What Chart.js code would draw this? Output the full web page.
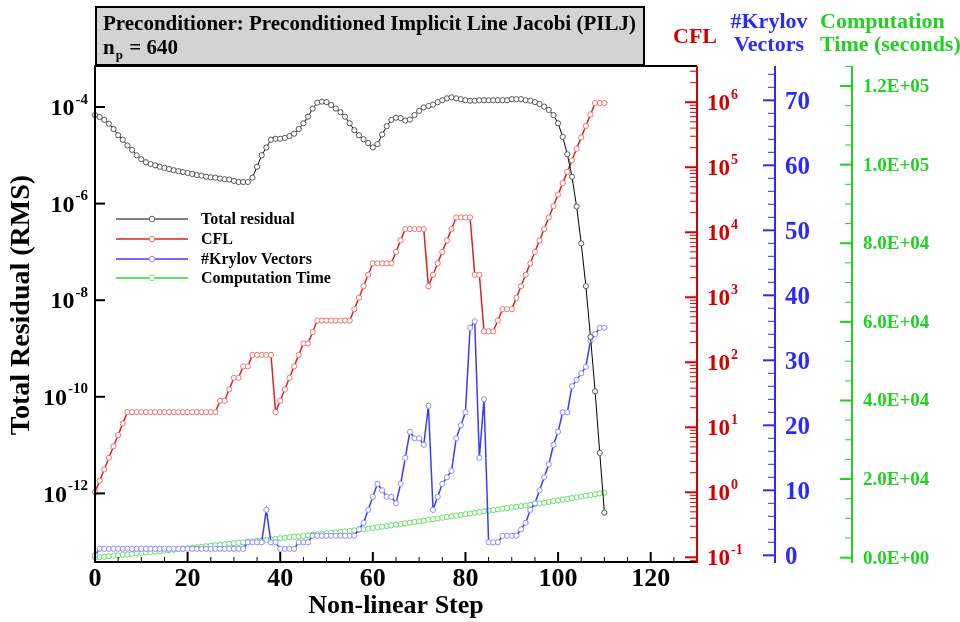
<!DOCTYPE html>
<html>
<head>
<meta charset="utf-8">
<title>PILJ convergence history</title>
<script src="https://cdn.jsdelivr.net/npm/chart.js@4.4.1/dist/chart.umd.min.js"></script>
<style>
  html, body { margin: 0; padding: 0; background: #fff; }
  #wrap { width: 960px; height: 622px; position: relative; }
</style>
</head>
<body>
<div id="wrap"><canvas id="chart" width="960" height="622"></canvas></div>
<script>
// non-linear step index
const steps = [
  0, 1, 2, 3, 4, 5, 6, 7, 8, 9, 10, 11, 12, 13, 14, 15, 16, 17, 18, 19,
  20, 21, 22, 23, 24, 25, 26, 27, 28, 29, 30, 31, 32, 33, 34, 35, 36, 37, 38, 39,
  40, 41, 42, 43, 44, 45, 46, 47, 48, 49, 50, 51, 52, 53, 54, 55, 56, 57, 58, 59,
  60, 61, 62, 63, 64, 65, 66, 67, 68, 69, 70, 71, 72, 73, 74, 75, 76, 77, 78, 79,
  80, 81, 82, 83, 84, 85, 86, 87, 88, 89, 90, 91, 92, 93, 94, 95, 96, 97, 98, 99,
  100, 101, 102, 103, 104, 105, 106, 107, 108, 109, 110
];

// total residual (RMS)
const residual = [
  6.8e-5, 6.2e-5, 5.4e-5, 4.5e-5, 3.5e-5, 2.6e-5, 2.1e-5, 1.6e-5, 1.3e-5, 1.0e-5,
  8.3e-6, 7.2e-6, 6.6e-6, 6.2e-6, 5.8e-6, 5.5e-6, 5.2e-6, 4.9e-6, 4.7e-6, 4.5e-6,
  4.3e-6, 4.1e-6, 3.9e-6, 3.8e-6, 3.6e-6, 3.5e-6, 3.45e-6, 3.3e-6, 3.2e-6, 3.15e-6,
  2.95e-6, 2.8e-6, 2.8e-6, 2.8e-6, 3.45e-6, 5.8e-6, 1.0e-5, 1.45e-5, 2.1e-5, 2.2e-5,
  2.2e-5, 2.3e-5, 2.5e-5, 2.8e-5, 3.5e-5, 4.6e-5, 6.3e-5, 9.3e-5, 1.23e-4, 1.29e-4,
  1.26e-4, 1.1e-4, 9.3e-5, 7.8e-5, 6.3e-5, 4.6e-5, 3.3e-5, 2.6e-5, 2.15e-5, 1.8e-5,
  1.45e-5, 1.7e-5, 2.7e-5, 4.0e-5, 5.4e-5, 6.0e-5, 5.9e-5, 5.25e-5, 5.5e-5, 6.8e-5,
  8.3e-5, 9.8e-5, 1.05e-4, 1.12e-4, 1.26e-4, 1.38e-4, 1.51e-4, 1.58e-4, 1.51e-4, 1.45e-4,
  1.38e-4, 1.35e-4, 1.35e-4, 1.38e-4, 1.38e-4, 1.38e-4, 1.38e-4, 1.38e-4, 1.38e-4, 1.38e-4,
  1.45e-4, 1.45e-4, 1.45e-4, 1.38e-4, 1.35e-4, 1.26e-4, 1.15e-4, 1.02e-4, 8.7e-5, 6.8e-5,
  4.6e-5, 2.4e-5, 1.05e-5, 3.6e-6, 8.7e-7, 1.5e-7, 1.95e-8, 1.74e-9, 1.3e-10, 6.9e-12,
  4.0e-13
];

// CFL number
const cfl = [
  1, 1.5, 2.25, 3.4, 5.1, 7.6, 11.4, 17.1, 17.1, 17.1,
  17.1, 17.1, 17.1, 17.1, 17.1, 17.1, 17.1, 17.1, 17.1, 17.1,
  17.1, 17.1, 17.1, 17.1, 17.1, 17.1, 17.1, 25.6, 25.6, 38.4,
  57.7, 57.7, 86.5, 86.5, 130, 130, 130, 130, 130, 17.1,
  25.6, 38.4, 57.7, 86.5, 130, 195, 195, 292, 438, 438,
  438, 438, 438, 438, 438, 438, 657, 985, 1480, 2220,
  3330, 3330, 3330, 3330, 3330, 5000, 7500, 11200, 11200, 11200,
  11200, 11200, 1480, 2220, 3330, 5000, 7500, 11200, 16900, 16900,
  16900, 16900, 2220, 2220, 300, 300, 300, 438, 657, 657,
  657, 985, 1480, 2220, 3330, 5000, 7500, 11200, 16900, 25300,
  38000, 57000, 85000, 128000, 192000, 288000, 432000, 649000, 973000, 973000,
  973000
];

// number of Krylov vectors
const krylov = [
  0, 1, 1, 1, 1, 1, 1, 1, 1, 1,
  1, 1, 1, 1, 1, 1, 1, 1, 1, 1,
  1, 1, 1, 1, 1, 1, 1, 1, 1, 1,
  1, 1, 1, 2, 2, 2, 2, 7, 2, 2,
  1, 1, 1, 1, 2, 2, 2, 3, 3, 3,
  3, 3, 3, 3, 3, 3, 3, 4, 5, 7,
  9, 11, 10, 9, 9, 8, 11, 15, 19, 18,
  18, 17, 23, 7, 9, 11, 12, 13, 18, 20,
  22, 35, 36, 15, 24, 2, 2, 2, 3, 3,
  3, 3, 4, 5, 7, 8, 10, 12, 14, 17,
  19, 22, 22, 26, 27, 28, 29, 33, 34, 35,
  35
];

// computation time (seconds)
const compTime = [
  0, 110, 230, 350, 470, 590, 710, 830, 950, 1070,
  1190, 1310, 1430, 1550, 1670, 1790, 1910, 2030, 2150, 2270,
  2390, 2520, 2640, 2770, 2900, 3020, 3150, 3270, 3400, 3530,
  3650, 3780, 3900, 4030, 4160, 4290, 4420, 4550, 4680, 4810,
  4940, 5060, 5190, 5310, 5440, 5560, 5690, 5810, 5940, 6060,
  6190, 6310, 6440, 6560, 6680, 6800, 6930, 7050, 7220, 7390,
  7560, 7730, 7890, 8060, 8230, 8400, 8570, 8730, 8900, 9080,
  9260, 9440, 9620, 9800, 9980, 10160, 10340, 10520, 10700, 10880,
  11060, 11240, 11420, 11600, 11780, 11960, 12120, 12290, 12450, 12610,
  12780, 12940, 13100, 13270, 13430, 13590, 13790, 13980, 14180, 14380,
  14570, 14770, 14970, 15170, 15360, 15560, 15760, 15950, 16150, 16350,
  16540
];

// tick labels
const xTicks = [0, 20, 40, 60, 80, 100, 120];
const residualTicks = [1e-12, 1e-10, 1e-8, 1e-6, 1e-4];
const cflTicks = [1e-1, 1e0, 1e1, 1e2, 1e3, 1e4, 1e5, 1e6];
const krylovTicks = [0, 10, 20, 30, 40, 50, 60, 70];
const timeTicks = [0, 20000, 40000, 60000, 80000, 100000, 120000];

const SERIF = '"Liberation Serif", "Times New Roman", serif';
const RED = '#d40000';
const BLUE = '#2a2aff';
const GREEN = '#1fd21f';

function pairs(ys) {
  return steps.map((s, i) => ({ x: s, y: ys[i] }));
}

function fixedWidth(w) {
  return (scale) => { scale.width = w; };
}

// "10" with a raised exponent
function drawPower(ctx, exp, x, y, align, color, size) {
  const supSize = Math.round(size * 0.62);
  ctx.font = `bold ${size}px ${SERIF}`;
  const wb = ctx.measureText('10').width;
  ctx.font = `bold ${supSize}px ${SERIF}`;
  const we = ctx.measureText(exp).width;
  const x0 = align === 'right' ? x - wb - we - 1 : x;
  ctx.fillStyle = color;
  ctx.textAlign = 'left';
  ctx.textBaseline = 'middle';
  ctx.font = `bold ${size}px ${SERIF}`;
  ctx.fillText('10', x0, y + 2);
  ctx.font = `bold ${supSize}px ${SERIF}`;
  ctx.fillText(exp, x0 + wb + 1, y - size * 0.3);
}

function sciLabel(v) {
  if (v === 0) return '0.0E+00';
  const e = Math.floor(Math.log10(v));
  const m = (v / Math.pow(10, e)).toFixed(1);
  return `${m}E+${String(e).padStart(2, '0')}`;
}

function tick(ctx, x1, y1, x2, y2) {
  ctx.beginPath();
  ctx.moveTo(x1, y1);
  ctx.lineTo(x2, y2);
  ctx.stroke();
}

const tecplotAxes = {
  id: 'tecplotAxes',
  afterDatasetsDraw(chart) {
    const ctx = chart.ctx;
    const { left, right, top, bottom } = chart.chartArea;
    const sx = chart.scales.x;
    const sRes = chart.scales.yRes;
    const sCfl = chart.scales.yCfl;
    const sKry = chart.scales.yKry;
    const sTime = chart.scales.yTime;
    ctx.save();
    ctx.lineCap = 'butt';

    // frame
    ctx.strokeStyle = '#000';
    ctx.lineWidth = 2;
    tick(ctx, left, top, left, bottom + 1);
    tick(ctx, left - 1, bottom, right, bottom);
    tick(ctx, left - 1, top, right, top);

    // bottom axis
    for (let v = 0; v <= 130; v += 5) {
      const px = sx.getPixelForValue(v);
      const major = xTicks.includes(v);
      ctx.lineWidth = major ? 2 : 1;
      tick(ctx, px, bottom, px, bottom - (major ? 10 : 5));
    }
    ctx.fillStyle = '#000';
    ctx.font = `bold 26px ${SERIF}`;
    ctx.textAlign = 'center';
    ctx.textBaseline = 'middle';
    xTicks.forEach(v => ctx.fillText(String(v), sx.getPixelForValue(v), 579));
    ctx.fillText('Non-linear Step', (left + right) / 2, 606);

    // left axis (residual)
    ctx.lineWidth = 2;
    residualTicks.forEach(v => {
      const py = sRes.getPixelForValue(v);
      tick(ctx, left, py, left + 10, py);
      drawPower(ctx, String(Math.round(Math.log10(v))), 88, py, 'right', '#000', 24);
    });
    ctx.save();
    ctx.translate(22, 305);
    ctx.rotate(-Math.PI / 2);
    ctx.fillStyle = '#000';
    ctx.font = `bold 28px ${SERIF}`;
    ctx.textAlign = 'center';
    ctx.textBaseline = 'middle';
    ctx.fillText('Total Residual (RMS)', 0, 0);
    ctx.restore();

    // CFL axis
    const xr = sCfl.left;
    ctx.strokeStyle = RED;
    ctx.lineWidth = 2;
    tick(ctx, xr, top, xr, bottom + 1);
    for (let e = -2; e <= 6; e++) {
      for (let k = 1; k <= 9; k++) {
        const v = k * Math.pow(10, e);
        if (v < sCfl.min || v > sCfl.max) continue;
        const py = sCfl.getPixelForValue(v);
        ctx.lineWidth = k === 1 ? 2 : 1;
        tick(ctx, xr, py, xr - (k === 1 ? 12 : 7), py);
      }
    }
    cflTicks.forEach(v => {
      drawPower(ctx, String(Math.round(Math.log10(v))), xr + 10, sCfl.getPixelForValue(v), 'left', RED, 23);
    });

    // Krylov axis
    const xb = sKry.left;
    ctx.strokeStyle = BLUE;
    ctx.lineWidth = 2;
    tick(ctx, xb, top, xb, bottom + 1);
    for (let v = 0; v <= 74; v += 2) {
      const py = sKry.getPixelForValue(v);
      const major = krylovTicks.includes(v);
      ctx.lineWidth = major ? 2 : 1;
      tick(ctx, xb, py, xb - (major ? 12 : 7), py);
    }
    ctx.fillStyle = BLUE;
    ctx.font = `bold 25px ${SERIF}`;
    ctx.textAlign = 'left';
    ctx.textBaseline = 'middle';
    krylovTicks.forEach(v => ctx.fillText(String(v), xb + 10, sKry.getPixelForValue(v) + 2));

    // computation time axis
    const xg = sTime.left;
    ctx.strokeStyle = GREEN;
    ctx.lineWidth = 2;
    tick(ctx, xg, top, xg, bottom + 1);
    for (let v = 0; v <= 125000; v += 5000) {
      const py = sTime.getPixelForValue(v);
      const major = timeTicks.includes(v);
      ctx.lineWidth = major ? 2 : 1;
      tick(ctx, xg, py, xg - (major ? 12 : 7), py);
    }
    ctx.fillStyle = GREEN;
    ctx.font = `bold 19px ${SERIF}`;
    timeTicks.forEach(v => ctx.fillText(sciLabel(v), xg + 11, sTime.getPixelForValue(v) + 1));

    // axis titles on the right
    ctx.textBaseline = 'middle';
    ctx.font = `bold 22px ${SERIF}`;
    ctx.fillStyle = RED;
    ctx.textAlign = 'left';
    ctx.fillText('CFL', 673, 37);
    ctx.fillStyle = BLUE;
    ctx.textAlign = 'center';
    ctx.fillText('#Krylov', 769, 22);
    ctx.fillText('Vectors', 769, 45);
    ctx.fillStyle = GREEN;
    ctx.textAlign = 'left';
    ctx.fillText('Computation', 820, 22);
    ctx.fillText('Time (seconds)', 820, 45);

    // title box
    ctx.fillStyle = '#d3d3d3';
    ctx.fillRect(96, 7, 548, 58);
    ctx.strokeStyle = '#000';
    ctx.lineWidth = 2;
    ctx.strokeRect(96, 7, 548, 58);
    ctx.fillStyle = '#000';
    ctx.textAlign = 'left';
    ctx.textBaseline = 'alphabetic';
    ctx.font = `bold 21px ${SERIF}`;
    ctx.fillText('Preconditioner: Preconditioned Implicit Line Jacobi (PILJ)', 103, 30);
    ctx.fillText('n', 103, 54);
    const wn = ctx.measureText('n').width;
    ctx.font = `bold 13px ${SERIF}`;
    ctx.fillText('p', 103 + wn + 1, 59);
    const wp = ctx.measureText('p').width;
    ctx.font = `bold 21px ${SERIF}`;
    ctx.fillText(' = 640', 103 + wn + wp + 2, 54);

    // legend
    const items = [
      ['Total residual', '#000', '#666'],
      ['CFL', '#e02020', '#f07070'],
      ['#Krylov Vectors', '#3a3aff', '#8c8cff'],
      ['Computation Time', '#22dd22', '#77e077']
    ];
    const rows = [219, 239, 259, 278];
    items.forEach(([label, line, mark], i) => {
      const y = rows[i];
      ctx.strokeStyle = line;
      ctx.lineWidth = i === 0 ? 1 : 1.5;
      tick(ctx, 116, y, 188, y);
      ctx.beginPath();
      ctx.arc(152, y, 2.8, 0, Math.PI * 2);
      ctx.fillStyle = '#fff';
      ctx.fill();
      ctx.strokeStyle = mark;
      ctx.lineWidth = 1;
      ctx.stroke();
      ctx.fillStyle = '#000';
      ctx.font = `bold 16px ${SERIF}`;
      ctx.textAlign = 'left';
      ctx.textBaseline = 'middle';
      ctx.fillText(label, 201, y + 1);
    });

    ctx.restore();
  }
};

function series(label, ys, axis, line, mark, width) {
  return {
    label,
    data: pairs(ys),
    yAxisID: axis,
    borderColor: line,
    borderWidth: width,
    pointRadius: 2.6,
    pointBorderWidth: 1,
    pointBorderColor: mark,
    pointBackgroundColor: '#fff',
    tension: 0,
    clip: false
  };
}

new Chart(document.getElementById('chart'), {
  type: 'line',
  data: {
    datasets: [
      series('Total residual', residual, 'yRes', '#000', '#555', 1),
      series('CFL', cfl, 'yCfl', '#e02020', '#f07070', 1.5),
      series('#Krylov Vectors', krylov, 'yKry', '#3a3aff', '#8c8cff', 1.5),
      series('Computation Time', compTime, 'yTime', '#22dd22', '#66dd66', 1)
    ]
  },
  options: {
    responsive: false,
    animation: false,
    devicePixelRatio: 1,
    layout: { padding: { top: 66, left: 0, right: 0, bottom: 0 } },
    plugins: { legend: { display: false }, title: { display: false }, tooltip: { enabled: false } },
    scales: {
      x: {
        type: 'linear', position: 'bottom', min: 0, max: 130,
        grid: { display: false }, border: { display: false }, ticks: { display: false },
        afterFit: (scale) => { scale.height = 60; }
      },
      yRes: {
        type: 'logarithmic', position: 'left', min: 3.8e-14, max: 7.06e-4,
        grid: { display: false }, border: { display: false }, ticks: { display: false },
        afterFit: fixedWidth(95)
      },
      yCfl: {
        type: 'logarithmic', position: 'right', weight: 0, min: 0.0847, max: 3.61e6,
        grid: { display: false }, border: { display: false }, ticks: { display: false },
        afterFit: fixedWidth(78)
      },
      yKry: {
        type: 'linear', position: 'right', weight: 1, min: -1.03, max: 75.28,
        grid: { display: false }, border: { display: false }, ticks: { display: false },
        afterFit: fixedWidth(77)
      },
      yTime: {
        type: 'linear', position: 'right', weight: 2, min: -1100, max: 125100,
        grid: { display: false }, border: { display: false }, ticks: { display: false },
        afterFit: fixedWidth(108)
      }
    }
  },
  plugins: [tecplotAxes]
});
</script>
</body>
</html>
